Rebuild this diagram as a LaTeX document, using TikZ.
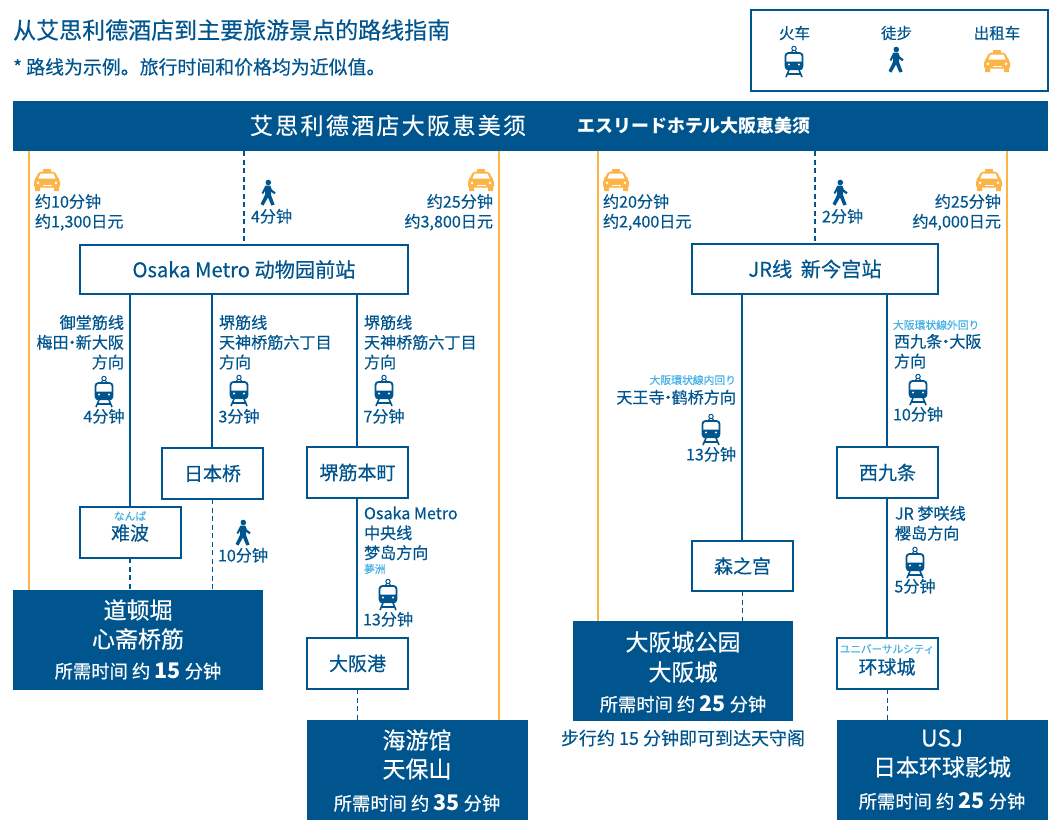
\documentclass[tikz,border=0pt]{standalone}
\usepackage{fontspec}
\setmainfont{Noto Sans CJK SC}[FakeBold=0.4]
\newfontfamily\heavy{Noto Sans CJK SC}
\definecolor{navy}{HTML}{00558F}
\definecolor{amber}{HTML}{FDB447}
\definecolor{sky}{HTML}{45B0E5}
\newcommand{\fs}[1]{\fontsize{#1}{#1}\selectfont}
\newcommand{\ndot}{\hbox to 7pt{\hss·\hss}}
\newcommand{\numb}[1]{{\heavy\bfseries\fs{21.5}#1}}
\tikzset{
  lbl/.style={inner sep=0pt,outer sep=0pt,text=navy,font=\fontsize{16.1}{19.8}\selectfont,align=left},
  lblr/.style={lbl,align=right},
  lblc/.style={lbl,align=center},
  ruby/.style={inner sep=0pt,outer sep=0pt,text=sky,font=\fs{10.8}},
  stnbox/.style={draw=navy,line width=2pt,fill=white,inner sep=0pt,outer sep=0pt,text=navy,font=\fs{19}},
  darkbox/.style={fill=navy,inner sep=0pt,outer sep=0pt},
  dname/.style={inner sep=0pt,outer sep=0pt,text=white,font=\fs{23}},
  dtime/.style={inner sep=0pt,outer sep=0pt,text=white,font=\fs{18.3}},
  rail/.style={draw=navy,line width=2pt},
  walk/.style={draw=navy,line width=2pt,dash pattern=on 5pt off 3.5pt},
  walkthin/.style={draw=navy,line width=1pt,dash pattern=on 5pt off 3.5pt},
  taxiline/.style={draw=amber,line width=2pt},
  train/.pic={
    \draw[navy,line width=1pt] (0,-13.5) circle (2.2pt);
    \draw[navy,line width=1pt] (-3.5,-9) -- (-1,-11.6) (3.5,-9) -- (1,-11.6);
    \draw[navy,line width=1.8pt,fill=white,rounded corners=3pt] (-8.5,-9) rectangle (8.5,7);
    \fill[navy] (-8.5,-0.5) -- (8.5,-0.5) -- (8.5,5) [rounded corners=2pt] -- (8.5,8) -- (-8.5,8) [sharp corners] -- (-8.5,5) -- cycle;
    \fill[white] (-5,2.5) circle (1.1pt) (5,2.5) circle (1.1pt);
    \draw[navy,line width=1.6pt] (-5,8) -- (-8,15) (5,8) -- (8,15) (-6,12) -- (6,12);
  },
  walker/.pic={
    \fill[navy] (0.3,-10.5) circle (2.8pt);
    \fill[navy] (-2.5,-7.5) -- (2.3,-7.5) -- (3.8,-3.5) -- (7.6,-0.5) -- (6.4,1.2) -- (3.2,-1.2) -- (3.0,2) -- (6.6,11.5) -- (3.4,12.6) -- (0,4.5) -- (-4.6,12.6) -- (-7.4,11) -- (-2.8,1.5) -- (-2.8,-2.5) -- (-4.8,1) -- (-6.4,0) -- cycle;
  },
  taxi/.pic={
    \fill[amber] (-4,-11) rectangle (4,-8.5);
    \fill[amber,rounded corners=2pt] (-8,-8.5) -- (8,-8.5) -- (11,-2) -- (13,0) -- (13,7.5) -- (-13,7.5) -- (-13,0) -- (-11,-2) -- cycle;
    \fill[amber] (-12,7) rectangle (-7,11) (7,7) rectangle (12,11);
    \fill[white] (-6.5,-6.5) -- (6.5,-6.5) -- (8.5,-1.5) -- (-8.5,-1.5) -- cycle;
    \fill[white] (-9,2.8) circle (1.5pt) (9,2.8) circle (1.5pt);
    \fill[white] (-4.5,4.5) rectangle (4.5,5.5);
  },
}
\begin{document}
\begin{tikzpicture}[x=1pt,y=-1pt]
\useasboundingbox (0,0) rectangle (1060,830);
% x positions of the vertical routes
\foreach \n/\v in {a/29,b/130,c/212,d/244,e/357,f/499,g/598,h/742,i/815,j/887,k/1007}
  \coordinate (x\n) at (\v,0);
% heading
\node[anchor=west,inner sep=0pt,text=navy,font=\fs{23}] (ttl) at (13,30) {从艾思利德酒店到主要旅游景点的路线指南};
\node[anchor=west,inner sep=0pt,text=navy,font=\fs{18.9}] (sub) at (13,67) {* 路线为示例。旅行时间和价格均为近似值。};
% legend
\node[draw=navy,line width=2pt,minimum width=297pt,minimum height=81pt,inner sep=0pt] (leg) at (899.5,50.5) {};
\node[lblc,font=\fs{15.5}] (l1) at (794.5,33) {火车};
\node[lblc,font=\fs{15.5}] (l2) at (896.5,33) {徒步};
\node[lblc,font=\fs{15.5}] (l3) at (997,33) {出租车};
\pic at (794,62) {train};
\pic at (896,60) {walker};
\pic at (997,61) {taxi};
% header
\node[darkbox,minimum width=1035pt,minimum height=50pt] (hdr) at (530.5,126) {};
\node[inner sep=0pt,text=white,font=\fs{23}\addfontfeature{LetterSpace=10}] (h1) at (388,125.5) {艾思利德酒店大阪恵美须};
\node[inner sep=0pt,text=white,font=\heavy\bfseries\fs{17.9}] (h2) at (694,125.5) {エスリードホテル大阪恵美须};
% destinations
\node[darkbox,minimum width=250pt,minimum height=100pt] (d1) at (138,640) {};
\node[darkbox,minimum width=221pt,minimum height=100pt] (d2) at (417.5,770) {};
\node[darkbox,minimum width=220pt,minimum height=100pt] (d3) at (683,671) {};
\node[darkbox,minimum width=211pt,minimum height=100pt] (d4) at (942.5,770) {};
% stations
\node[stnbox,minimum width=328pt,minimum height=49pt,font=\fs{20.2}] (m0) at (244,269.5) {\raisebox{-2.2pt}{Osaka Metro 动物园前站}};
\node[stnbox,minimum width=246pt,minimum height=50pt,font=\fs{20.2}] (j0) at (815,269) {\raisebox{-2.2pt}{JR线\hspace{4pt} 新今宫站}};
\node[stnbox,minimum width=101pt,minimum height=51pt] (nip) at (212.5,473.5) {日本桥};
\node[stnbox,minimum width=101pt,minimum height=51pt] (sak) at (357.5,472.5) {\raisebox{0.5pt}{堺筋本町}};
\node[stnbox,minimum width=101pt,minimum height=51pt] (nam) at (130.5,532.5) {};
\node[stnbox,minimum width=101pt,minimum height=51pt] (osk) at (357.5,663.5) {大阪港};
\node[stnbox,minimum width=101pt,minimum height=50pt] (mor) at (742.5,566) {森之宫};
\node[stnbox,minimum width=101pt,minimum height=51pt] (nis) at (887.5,472.5) {西九条};
\node[stnbox,minimum width=101pt,minimum height=51pt] (usc) at (887.5,663.5) {};
\node[ruby] (r1) at (130,516) {なんば};
\node[text=navy,inner sep=0pt,font=\fs{19}] (t1) at (130,533) {难波};
\node[ruby,font=\fs{10.6}] (r2) at (887,649) {ユニバーサルシティ};
\node[text=navy,inner sep=0pt,font=\fs{19}] (t2) at (887,667) {环球城};
% connectors
\draw[taxiline] (hdr.south -| xa) -- (d1.north -| xa);
\draw[taxiline] (hdr.south -| xf) -- (d2.north -| xf);
\draw[taxiline] (hdr.south -| xg) -- (d3.north -| xg);
\draw[taxiline] (hdr.south -| xk) -- (d4.north -| xk);
\draw[walk] (hdr.south -| xd) -- (m0.north -| xd);
\draw[walk] (hdr.south -| xi) -- (j0.north -| xi);
\draw[rail] (m0.south -| xb) -- (nam.north -| xb);
\draw[rail] (m0.south -| xc) -- (nip.north -| xc);
\draw[rail] (m0.south -| xe) -- (sak.north -| xe);
\draw[rail] (sak.south -| xe) -- (osk.north -| xe);
\draw[rail] (j0.south -| xh) -- (mor.north -| xh);
\draw[rail] (j0.south -| xj) -- (nis.north -| xj);
\draw[rail] (nis.south -| xj) -- (usc.north -| xj);
\draw[walk] (nam.south -| xb) -- (d1.north -| xb);
\draw[walkthin] (nip.south -| xc) -- (d1.north -| xc);
\draw[walkthin] (osk.south -| xe) -- (d2.north -| xe);
\draw[walkthin] (mor.south -| xh) -- (d3.north -| xh);
\draw[walkthin] (usc.south -| xj) -- (d4.north -| xj);
% walk and taxi legs
\pic at (47,180) {taxi};
\node[lbl,anchor=west] (a1) at (35,212.3) {约10分钟\\约1,300日元};
\pic at (268,193) {walker};
\node[lbl,anchor=west] (a2) at (251,216.3) {4分钟};
\pic at (481,180) {taxi};
\node[lblr,anchor=east] (a3) at (493,212.3) {约25分钟\\约3,800日元};
\pic at (616,180) {taxi};
\node[lbl,anchor=west] (a4) at (603,212.3) {约20分钟\\约2,400日元};
\pic at (840,193) {walker};
\node[lbl,anchor=west] (a5) at (822,216.3) {2分钟};
\pic at (989,180) {taxi};
\node[lblr,anchor=east] (a6) at (1001,212.3) {约25分钟\\约4,000日元};
% rail legs
\node[lblr,anchor=east] (b1) at (124,342.3) {御堂筋线\\梅田\ndot 新大阪\\方向};
\pic at (104,392) {train};
\node[lblc] (b2) at (104,416.3) {4分钟};
\node[lbl,anchor=west] (b3) at (219,342.3) {堺筋线\\天神桥筋六丁目\\方向};
\pic at (239,391) {train};
\node[lblc] (b4) at (239,416.3) {3分钟};
\node[lbl,anchor=west] (b5) at (364,342.3) {堺筋线\\天神桥筋六丁目\\方向};
\pic at (384,391) {train};
\node[lblc] (b6) at (384,416.3) {7分钟};
\pic at (243,533) {walker};
\node[lblc] (b7) at (243,555.3) {10分钟};
\node[lbl,anchor=west] (b8) at (364,533.3) {Osaka Metro\\中央线\\梦岛方向};
\node[ruby,anchor=west] (b9) at (364,569) {夢洲};
\pic at (388,595) {train};
\node[lblc] (b10) at (388,619.3) {13分钟};
\node[ruby,anchor=east] (c1) at (736,380) {大阪環状線内回り};
\node[lblr,anchor=east] (c2) at (736,397.3) {天王寺\ndot 鹤桥方向};
\pic at (711,430) {train};
\node[lblc] (c3) at (711,454.3) {13分钟};
\node[ruby,anchor=west] (c4) at (893,325) {大阪環状線外回り};
\node[lbl,anchor=west] (c5) at (894,351.3) {西九条\ndot 大阪\\方向};
\pic at (918,390) {train};
\node[lblc] (c6) at (918,414.3) {10分钟};
\node[lbl,anchor=west] (c7) at (895,523.3) {JR 梦咲线\\樱岛方向};
\pic at (915,563) {train};
\node[lblc] (c8) at (915,586.3) {5分钟};
% destination texts
\node[dname] (e1) at (138,610) {道顿堀};
\node[dname] (e2) at (138,639) {心斋桥筋};
\node[dtime] (e3) at (138,671) {所需时间 约 \numb{15} 分钟};
\node[dname] (e4) at (417,740) {海游馆};
\node[dname] (e5) at (417,769) {天保山};
\node[dtime] (e6) at (417,803) {所需时间 约 \numb{35} 分钟};
\node[dname] (e7) at (683,642) {大阪城公园};
\node[dname] (e8) at (683,672) {大阪城};
\node[dtime] (e9) at (683,704) {所需时间 约 \numb{25} 分钟};
\node[dname] (e10) at (942,738) {USJ};
\node[dname] (e11) at (942,767) {日本环球影城};
\node[dtime] (e12) at (942,801) {所需时间 约 \numb{25} 分钟};
\node[lblc,font=\fs{18}] (e13) at (683,738) {步行约 15 分钟即可到达天守阁};
\end{tikzpicture}
\end{document}
